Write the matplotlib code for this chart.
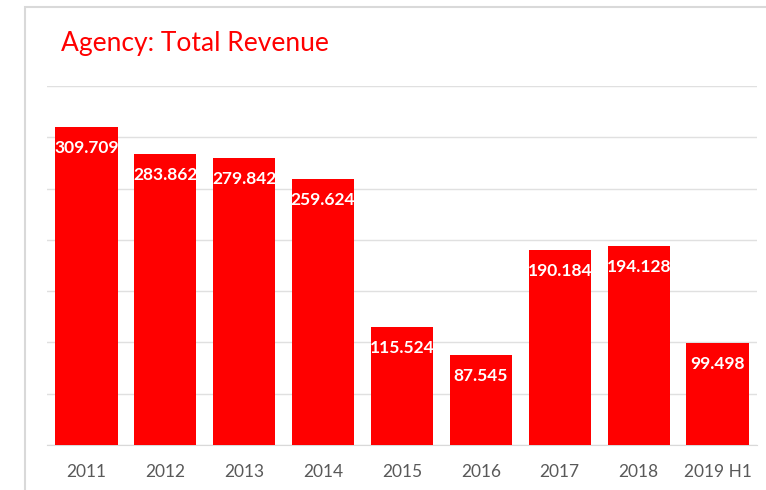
"""Agency total revenue bar chart."""

import matplotlib.pyplot as plt
from matplotlib.patches import Rectangle
from matplotlib.transforms import offset_copy

years = ["2011", "2012", "2013", "2014", "2015", "2016", "2017", "2018", "2019 H1"]
revenue = [309.709, 283.862, 279.842, 259.624, 115.524, 87.545, 190.184, 194.128, 99.498]
value_labels = ["309.709", "283.862", "279.842", "259.624", "115.524",
                "87.545", "190.184", "194.128", "99.498"]

plt.rcParams["font.family"] = ["Lato", "DejaVu Sans"]

fig = plt.figure(figsize=(7.66, 4.90), dpi=100, facecolor="white")
ax = fig.add_axes([47 / 766, 1 - 445 / 490, 710 / 766, 359 / 490])

# outer chart frame (runs off the right and bottom edges)
fig.patches.append(Rectangle((25 / 766, -0.05), 1.0, 1 - 7 / 490 + 0.05,
                             transform=fig.transFigure, fill=False,
                             edgecolor="#d9d9d9", linewidth=1.5))

x = range(len(years))
ax.bar(x, revenue, width=0.79, color="#ff0000", zorder=3)

label_tf = offset_copy(ax.transData, fig=fig, y=-21, units="dots")
for xi, val, lab in zip(x, revenue, value_labels):
    ax.text(xi, val, lab, transform=label_tf, ha="center", va="center",
            color="white", fontsize=12.5, fontweight="bold", zorder=4)

ax.set_xlim(-0.5, len(years) - 0.5)
ax.set_ylim(0, 350)
ax.set_yticks(range(0, 351, 50))
ax.set_yticklabels([])
ax.set_xticks(list(x))
ax.set_xticklabels(years, fontsize=12.5, color="#595959")
ax.tick_params(axis="both", length=0, pad=14)
ax.grid(axis="y", color="#e0e0e0", linewidth=1, zorder=0)
for side in ["top", "right", "left"]:
    ax.spines[side].set_visible(False)
ax.spines["bottom"].set_color("#d9d9d9")

fig.text(61 / 766, 1 - 44 / 490, "Agency: Total Revenue", fontsize=19,
         color="#ff0000", ha="left", va="center")

fig.savefig("out.png", dpi=100, facecolor="white")
